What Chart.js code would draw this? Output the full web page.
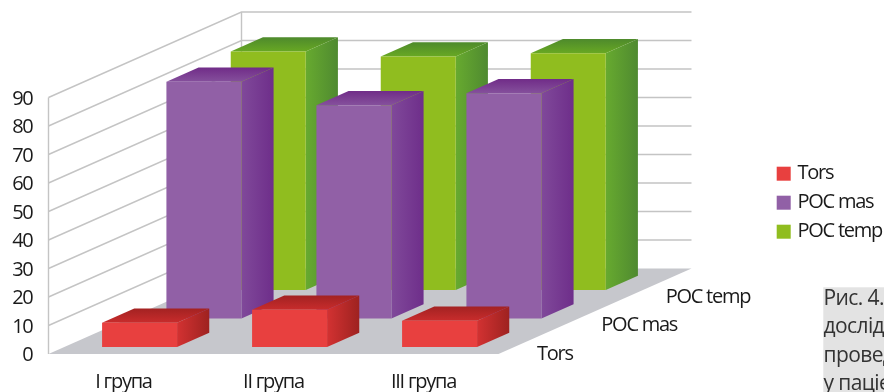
<!DOCTYPE html>
<html>
<head>
<meta charset="utf-8">
<style>
  html, body { margin: 0; padding: 0; background: #fff; }
  #wrap { width: 884px; height: 392px; }
</style>
<script src="https://cdn.jsdelivr.net/npm/chart.js@4/dist/chart.umd.min.js"></script>
</head>
<body>
<div id="wrap"><canvas id="myChart" width="884" height="392"></canvas></div>
<script>
const groups = ['I група', 'II група', 'III група'];
const tors = [8.5, 13, 9.2];
const pocMas = [83, 74.8, 79];
const pocTemp = [83.6, 81.9, 83];
const yTicksMax = 90;
const captionLines = ['Рис. 4.', 'дослід', 'провед', 'у паціє'];

const FONT = '"Open Sans", sans-serif';
const TEXT = '#1a1a1a';

// oblique projection of the depth axis
const DEPTH_X = 193;
const DEPTH_Y = -85.5;
const BAR_DEPTH = 0.5 / 3;

const palette = {
  Tors: { front: '#e8403f', side: ['#d33232', '#9e2220'], top: ['#c82c2c', '#a32222'] },
  'POC mas': { front: '#9160a6', side: ['#80499a', '#6e2e8a'], top: ['#85509c', '#702c88'] },
  'POC temp': { front: '#90bd1f', side: ['#67aa2f', '#4f8a30'], top: ['#68a823', '#4e8a2c'] }
};

function poly(ctx, pts, fill) {
  ctx.beginPath();
  ctx.moveTo(pts[0][0], pts[0][1]);
  for (let i = 1; i < pts.length; i++) ctx.lineTo(pts[i][0], pts[i][1]);
  ctx.closePath();
  ctx.fillStyle = fill;
  ctx.fill();
}

// bars with a front, top and side face, pushed back along the depth axis by dataset
class Bar3dController extends Chart.BarController {
  draw() {
    const ctx = this.chart.ctx;
    const row = this.index;
    const colors = palette[this.getDataset().label];
    const d = (row + 0.25) / 3;
    const ox = DEPTH_X * d, oy = DEPTH_Y * d;
    const sx = DEPTH_X * BAR_DEPTH, sy = DEPTH_Y * BAR_DEPTH;
    const bars = this.getMeta().data;
    for (let i = 0; i < bars.length; i++) {
      const bar = bars[i];
      const l = bar.x - bar.width / 2 + ox;
      const r = bar.x + bar.width / 2 + ox;
      const t = bar.y + oy;
      const b = bar.base + oy;

      const sideGrad = ctx.createLinearGradient(r, 0, r + sx, 0);
      sideGrad.addColorStop(0, colors.side[0]);
      sideGrad.addColorStop(1, colors.side[1]);
      poly(ctx, [[r, t], [r + sx, t + sy], [r + sx, b + sy], [r, b]], sideGrad);

      const topGrad = ctx.createLinearGradient(0, t, 0, t + sy);
      topGrad.addColorStop(0, colors.top[0]);
      topGrad.addColorStop(1, colors.top[1]);
      poly(ctx, [[l, t], [r, t], [r + sx, t + sy], [l + sx, t + sy]], topGrad);

      poly(ctx, [[l, t], [r, t], [r, b], [l, b]], colors.front);
    }
  }
}
Bar3dController.id = 'bar3d';
Bar3dController.defaults = Chart.BarController.defaults;
Bar3dController.overrides = Chart.BarController.overrides;
Chart.register(Bar3dController);

const scenePlugin = {
  id: 'scene',
  // the labels are set tight; the canvas state is lost on every resize, so set it here
  beforeDraw(chart) {
    chart.ctx.letterSpacing = '-1.25px';
  },
  beforeDatasetsDraw(chart) {
    const { ctx, chartArea: a, scales } = chart;
    const bl = [a.left, a.bottom], br = [a.right, a.bottom];
    const backL = [a.left + DEPTH_X, a.bottom + DEPTH_Y];
    const backR = [a.right + DEPTH_X, a.bottom + DEPTH_Y];
    poly(ctx, [bl, br, backR, backL], '#c6c7cc');

    ctx.save();
    ctx.lineWidth = 1.4;
    ctx.strokeStyle = '#c4c4c4';
    scales.y.ticks.forEach(function(tick) {
      if (tick.value === 0) return;
      const y = scales.y.getPixelForValue(tick.value);
      ctx.beginPath();
      ctx.moveTo(a.left, y);
      ctx.lineTo(backL[0], y + DEPTH_Y);
      ctx.lineTo(backR[0], y + DEPTH_Y);
      ctx.stroke();
    });
    ctx.beginPath();
    ctx.moveTo(a.left, a.top);
    ctx.lineTo(a.left, a.bottom);
    ctx.moveTo(backL[0], a.top + DEPTH_Y);
    ctx.lineTo(backL[0], backL[1]);
    ctx.stroke();
    ctx.restore();
  },
  afterDraw(chart) {
    const { ctx, chartArea: a } = chart;
    ctx.save();
    ctx.font = '20px ' + FONT;
    ctx.textBaseline = 'middle';
    ctx.textAlign = 'left';

    // depth axis labels
    chart.data.datasets.forEach(function(ds, i) {
      ctx.fillStyle = TEXT;
      ctx.fillText(ds.label, a.right + 38.5 + DEPTH_X * i / 3, a.bottom + DEPTH_Y * i / 3);
    });

    // legend
    chart.data.datasets.forEach(function(ds, i) {
      const y = 166.7 + i * 29;
      ctx.fillStyle = palette[ds.label].front;
      ctx.fillRect(776.7, y, 14, 14);
      ctx.fillStyle = TEXT;
      ctx.fillText(ds.label, 797.5, y + 7);
    });

    // figure caption beside the chart
    ctx.fillStyle = '#e3e3e3';
    ctx.fillRect(823.3, 287.3, 61, 105);
    ctx.fillStyle = '#333';
    ctx.font = '21px ' + FONT;
    ctx.letterSpacing = '-0.6px';
    ctx.textBaseline = 'alphabetic';
    captionLines.forEach(function(line, i) {
      ctx.fillText(line, 823.5, 305 + i * 28.4);
    });
    ctx.restore();
  }
};

const config = {
  type: 'bar3d',
  data: {
    labels: groups,
    datasets: [
      { label: 'Tors', data: tors, clip: false },
      { label: 'POC mas', data: pocMas, clip: false },
      { label: 'POC temp', data: pocTemp, clip: false }
    ]
  },
  options: {
    responsive: false,
    animation: false,
    grouped: false,
    barPercentage: 1,
    categoryPercentage: 0.5,
    layout: { padding: { top: 97.5, right: 385.5, left: 0, bottom: 0 } },
    plugins: { legend: { display: false }, tooltip: { enabled: false } },
    scales: {
      x: {
        type: 'category',
        offset: true,
        grid: { display: false, drawTicks: false },
        border: { display: false },
        ticks: { color: TEXT, font: { family: FONT, size: 20 }, padding: 16, maxRotation: 0, autoSkip: false },
        afterFit(scale) { scale.height = 38; }
      },
      y: {
        type: 'linear',
        min: 0,
        max: yTicksMax,
        grid: { display: false, drawTicks: false },
        border: { display: false },
        ticks: { stepSize: 10, color: TEXT, font: { family: FONT, size: 20 }, padding: 16, labelOffset: 1.5 },
        afterFit(scale) { scale.width = 48.5; }
      }
    }
  },
  plugins: [scenePlugin]
};

const myChart = new Chart(document.getElementById('myChart'), config);
</script>
</body>
</html>
